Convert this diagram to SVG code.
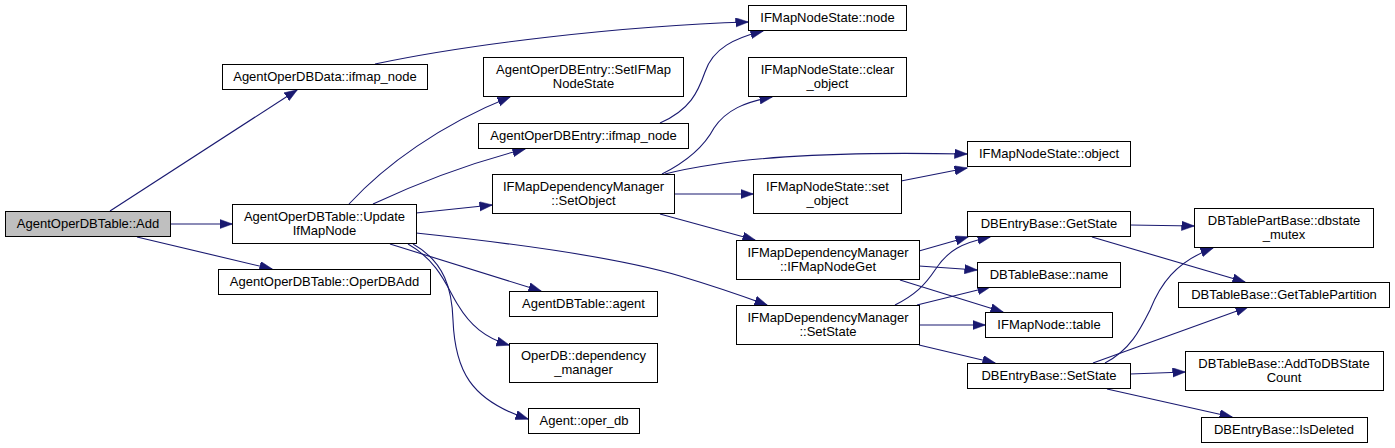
<svg xmlns="http://www.w3.org/2000/svg" width="1395" height="448" viewBox="0 0 1395 448">
<style>
.n rect{fill:#fff;stroke:#000;stroke-width:1}
.n.root rect{fill:#bfbfbf}
.n text{font-family:"Liberation Sans",Arial,sans-serif;font-size:13px;fill:#000;text-anchor:middle}
.e path{fill:none;stroke:#191970;stroke-width:1.1;marker-end:url(#ah)}
</style>
<defs>
<marker id="ah" markerUnits="userSpaceOnUse" markerWidth="14" markerHeight="10" refX="12.5" refY="4.7" orient="auto">
<path d="M0,0 L13,4.7 L0,9.4 Z" fill="#191970" stroke="#191970" stroke-width="0.5"/>
</marker>
</defs>
<rect width="1395" height="448" fill="#fff"/>
<g id="edges" class="e">
<path d="M110,211 L297,90"/>
<path d="M170,224 L232,224"/>
<path d="M137,237 L272,269"/>
<path d="M375,64 C470,44 620,26 748,22"/>
<path d="M349,204 C385,165 440,125 510,97"/>
<path d="M373,204 C420,182 470,163 525,149"/>
<path d="M416,213 L492,205"/>
<path d="M390,244 L541,291"/>
<path d="M416,233 C520,244 620,258 680,276 C710,285 740,295 767,305"/>
<path d="M408,244 C440,262 448,290 458,305 C470,325 485,338 509,345"/>
<path d="M413,244 C445,262 452,290 453,320 C455,370 470,400 528,419"/>
<path d="M660,123 C690,110 698,92 705,72 C713,48 735,38 763,31"/>
<path d="M662,174 C690,160 705,145 714,128 C726,110 745,102 772,97"/>
<path d="M665,174 C730,158 820,151 967,154"/>
<path d="M674,194 L753,194"/>
<path d="M901,181 L967,168"/>
<path d="M660,214 L755,240"/>
<path d="M919,251 L968,237"/>
<path d="M919,266 L977,270"/>
<path d="M900,280 L1003,312"/>
<path d="M895,305 C915,295 925,285 935,270 C948,250 962,243 990,237"/>
<path d="M917,305 L990,287"/>
<path d="M919,325 L985,325"/>
<path d="M919,345 L995,363"/>
<path d="M1130,225 L1194,226"/>
<path d="M1092,237 L1245,282"/>
<path d="M1105,363 C1130,350 1140,330 1150,310 C1160,285 1175,262 1213,248"/>
<path d="M1093,363 L1248,307"/>
<path d="M1130,374 L1185,372"/>
<path d="M1107,389 L1232,417"/>
</g>
<g id="n_add" class="n root"><rect x="5.5" y="211.5" width="165" height="25"/><text x="88" y="228">AgentOperDBTable::Add</text></g>
<g id="n_data_ifmap" class="n"><rect x="222.5" y="64.5" width="205" height="25"/><text x="325" y="81">AgentOperDBData::ifmap_node</text></g>
<g id="n_update" class="n"><rect x="232.5" y="204.5" width="184" height="39"/><text x="324.5" y="221">AgentOperDBTable::Update</text><text x="324.5" y="235">IfMapNode</text></g>
<g id="n_operdbadd" class="n"><rect x="218.5" y="269.5" width="212" height="25"/><text x="324.5" y="286">AgentOperDBTable::OperDBAdd</text></g>
<g id="n_nsnode" class="n"><rect x="748.5" y="5.5" width="158" height="25"/><text x="827.5" y="22">IFMapNodeState::node</text></g>
<g id="n_setifmap" class="n"><rect x="483.5" y="57.5" width="200" height="39"/><text x="583.5" y="74">AgentOperDBEntry::SetIFMap</text><text x="583.5" y="88">NodeState</text></g>
<g id="n_entry_ifmap" class="n"><rect x="478.5" y="123.5" width="210" height="25"/><text x="583.5" y="140">AgentOperDBEntry::ifmap_node</text></g>
<g id="n_setobject" class="n"><rect x="492.5" y="174.5" width="182" height="39"/><text x="583.5" y="191">IFMapDependencyManager</text><text x="583.5" y="205">::SetObject</text></g>
<g id="n_agent" class="n"><rect x="509.5" y="291.5" width="148" height="25"/><text x="583.5" y="308">AgentDBTable::agent</text></g>
<g id="n_depmgr" class="n"><rect x="509.5" y="343.5" width="148" height="39"/><text x="583.5" y="360">OperDB::dependency</text><text x="583.5" y="374">_manager</text></g>
<g id="n_operdb" class="n"><rect x="528.5" y="408.5" width="111" height="25"/><text x="584" y="425">Agent::oper_db</text></g>
<g id="n_clearobj" class="n"><rect x="748.5" y="57.5" width="158" height="39"/><text x="827.5" y="74">IFMapNodeState::clear</text><text x="827.5" y="88">_object</text></g>
<g id="n_setobj" class="n"><rect x="753.5" y="174.5" width="148" height="39"/><text x="827.5" y="191">IFMapNodeState::set</text><text x="827.5" y="205">_object</text></g>
<g id="n_nodeget" class="n"><rect x="736.5" y="240.5" width="183" height="39"/><text x="828" y="257">IFMapDependencyManager</text><text x="828" y="271">::IFMapNodeGet</text></g>
<g id="n_setstate_dm" class="n"><rect x="736.5" y="305.5" width="183" height="39"/><text x="828" y="322">IFMapDependencyManager</text><text x="828" y="336">::SetState</text></g>
<g id="n_object" class="n"><rect x="967.5" y="141.5" width="163" height="25"/><text x="1049" y="158">IFMapNodeState::object</text></g>
<g id="n_getstate" class="n"><rect x="967.5" y="211.5" width="163" height="25"/><text x="1049" y="228">DBEntryBase::GetState</text></g>
<g id="n_name" class="n"><rect x="977.5" y="262.5" width="143" height="25"/><text x="1049" y="279">DBTableBase::name</text></g>
<g id="n_table" class="n"><rect x="985.5" y="312.5" width="127" height="25"/><text x="1049" y="329">IFMapNode::table</text></g>
<g id="n_setstate_db" class="n"><rect x="967.5" y="363.5" width="163" height="25"/><text x="1049" y="380">DBEntryBase::SetState</text></g>
<g id="n_mutex" class="n"><rect x="1194.5" y="208.5" width="179" height="39"/><text x="1284" y="225">DBTablePartBase::dbstate</text><text x="1284" y="239">_mutex</text></g>
<g id="n_gettablepart" class="n"><rect x="1178.5" y="282.5" width="211" height="25"/><text x="1284" y="299">DBTableBase::GetTablePartition</text></g>
<g id="n_addtocount" class="n"><rect x="1185.5" y="351.5" width="198" height="39"/><text x="1284" y="368">DBTableBase::AddToDBState</text><text x="1284" y="382">Count</text></g>
<g id="n_isdeleted" class="n"><rect x="1201.5" y="417.5" width="166" height="25"/><text x="1284" y="434">DBEntryBase::IsDeleted</text></g>
</svg>
